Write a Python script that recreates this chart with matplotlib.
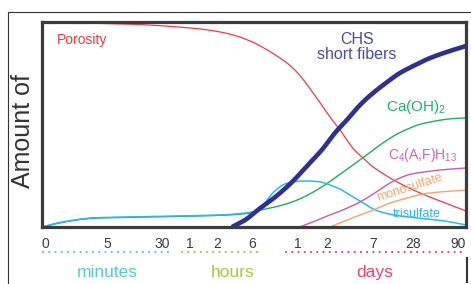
import matplotlib
matplotlib.use('Agg')
import matplotlib.pyplot as plt
from matplotlib.lines import Line2D
import numpy as np

plt.rcParams['font.family'] = ['Liberation Sans', 'DejaVu Sans']

# Curves: x is position along the time axis (0-100), y is amount (0-100)
porosity_x = [0, 13.7, 25.5, 37.3, 44.3, 49.1, 52.6, 56.1, 58.5, 60.8, 63.2, 65.6, 67.9, 70.3,
              73.3, 75.7, 78.1, 82.1, 86.1, 90.3, 93.9, 100]
porosity_y = [99.5, 99.3, 98.5, 96.6, 94.1, 90.7, 87.0, 82.5, 78.8, 74.0, 67.5, 60.5, 53.7, 47.3,
              38.5, 33.7, 29.3, 23.9, 19.5, 15.6, 12.7, 7.8]

chs_x = [44.8, 47.9, 50.9, 55.0, 59.0, 62.7, 66.0, 69.1, 71.9, 75.0, 78.1, 81.4, 84.4, 88.0, 91.5, 95.5, 100]
chs_y = [0, 3.4, 8.3, 14.6, 22.0, 30.2, 37.6, 45.9, 52.2, 59.5, 65.4, 70.7, 75.1, 79.0, 82.4, 85.4, 88.3]

caoh_x = [0, 3.1, 6.6, 10.1, 13.7, 25.5, 37.3, 44.3, 49.1, 50.9, 55.0, 59.0, 62.7, 66.7, 71.0, 75.7,
          78.1, 81.4, 83.7, 86.8, 89.9, 95.5, 100]
caoh_y = [0, 1.5, 2.9, 3.9, 4.4, 4.9, 5.4, 5.9, 6.8, 8.0, 9.8, 12.2, 15.6, 20.5, 26.8, 33.8,
          37.6, 42.4, 45.3, 48.3, 50.5, 52.6, 53.2]

trisulfate_x = [0, 3.1, 6.6, 10.1, 13.7, 25.5, 37.3, 44.3, 49.5, 50.9, 52.4, 53.8, 55.4, 57.3, 59.7,
                62.7, 65.6, 67.9, 70.3, 72.6, 75.0, 78.1, 80.9, 84.4, 89.9, 95.0, 100]
trisulfate_y = [0, 1.7, 3.1, 4.1, 4.6, 5.1, 5.6, 6.1, 7.3, 8.3, 11.2, 15.1, 18.5, 21.0, 22.2,
                22.4, 22.0, 20.5, 18.5, 15.6, 12.7, 8.8, 6.8, 5.4, 4.1, 2.9, 1.0]

c4afh_x = [60.8, 62.0, 64.4, 66.7, 69.1, 71.5, 75.0, 78.5, 82.1, 85.6, 88.4, 93.9, 100]
c4afh_y = [0, 1.0, 2.9, 4.9, 6.8, 8.8, 12.2, 16.6, 21.5, 24.9, 26.3, 27.8, 28.8]

mono_x = [67.9, 70.3, 73.8, 78.1, 82.1, 86.1, 89.9, 93.9, 100]
mono_y = [0, 2.0, 4.9, 8.3, 11.7, 14.1, 16.1, 17.1, 18.0]

tick_pos = [0.7, 15.3, 28.3, 34.9, 41.3, 49.5, 60.4, 67.2, 78.1, 87.5, 98.1]
tick_labels = ['0', '5', '30', '1', '2', '6', '1', '2', '7', '28', '90']

# time unit groups: name, start, end, label centre
groups = ['minutes', 'hours', 'days']
group_start = [0.2, 33.0, 57.5]
group_end = [30.7, 51.2, 99.3]
group_center = [15.3, 45.0, 78.5]
group_colors = ['#55c8da', '#a6c93e', '#ee4466']


def smooth(x, y, n=12):
    # catmull-rom through the read points, only to draw them as a smooth line
    p = np.column_stack([x, y]).astype(float)
    p = np.vstack([p[0], p, p[-1]])
    out = []
    t = np.linspace(0, 1, n, endpoint=False)[:, None]
    for i in range(1, len(p) - 2):
        p0, p1, p2, p3 = p[i - 1], p[i], p[i + 1], p[i + 2]
        out.append(0.5 * (2 * p1 + (p2 - p0) * t + (2 * p0 - 5 * p1 + 4 * p2 - p3) * t ** 2
                          + (3 * p1 - p0 - 3 * p2 + p3) * t ** 3))
    out.append(p[-2][None, :])
    out = np.vstack(out)
    return out[:, 0], out[:, 1]


fig = plt.figure(figsize=(4.71, 2.84), dpi=100)
ax = fig.add_axes([42 / 471, 57 / 284, 424 / 471, 205 / 284])

ax.plot(*smooth(porosity_x, porosity_y), color='#ee3a45', lw=0.9)
ax.plot(*smooth(caoh_x, caoh_y), color='#1fae5b', lw=1.0)
ax.plot(*smooth(trisulfate_x, trisulfate_y), color='#2db7ea', lw=1.1)
ax.plot(*smooth(c4afh_x, c4afh_y), color='#c55cb4', lw=1.0)
ax.plot(*smooth(mono_x, mono_y), color='#f7a36e', lw=1.0)
ax.plot(*smooth(chs_x, chs_y), color='#2e3192', lw=3.3, solid_capstyle='butt')

ax.set_xlim(0, 100)
ax.set_ylim(0, 100)
ax.set_yticks([])
ax.set_xticks(tick_pos)
ax.set_xticklabels(tick_labels, fontsize=10, color='#3a3a3a')
ax.tick_params(axis='x', length=0, pad=7)
for s in ax.spines.values():
    s.set_linewidth(2.3)
    s.set_color('#3c3c3c')

# curve labels
ax.text(3.5, 91.2, 'Porosity', color='#ee3a45', fontsize=10, ha='left', va='center')
ax.text(74.3, 87.8, 'CHS\nshort fibers', color='#4a4d9e', fontsize=11.5, ha='center', va='center',
        linespacing=1.05)
ax.text(81.1, 58.5, r'Ca(OH)$\mathregular{_2}$', color='#22b06a', fontsize=11, ha='left', va='center')
ax.text(81.6, 35.1, r'C$\mathregular{_4}$(A,F)H$\mathregular{_{13}}$', color='#c766b4', fontsize=10,
        ha='left', va='center')
ax.text(86.8, 19.0, 'monosulfate', color='#f7a36e', fontsize=9, ha='center', va='center', rotation=18)
ax.text(88.4, 6.3, 'trisulfate', color='#2db7ea', fontsize=9, ha='center', va='center')

# dotted unit rows and names under the axis
for name, x0, x1, xc, c in zip(groups, group_start, group_end, group_center, group_colors):
    ax.plot([x0, x1], [-12.2, -12.2], color=c, lw=1.6, ls=(0, (0.01, 2.8)),
            dash_capstyle='round', clip_on=False)
    ax.text(xc, -22.0, name, color=c, fontsize=12.5, ha='center', va='center', clip_on=False)

fig.text(23 / 471, 1 - 131 / 284, 'Amount of', rotation=90, fontsize=18, color='#333333',
         ha='center', va='center')

# outer frame lines
fig.add_artist(Line2D([8 / 471, 8 / 471], [0, 1 - 12 / 284], color='#333333', lw=0.8))
fig.add_artist(Line2D([8 / 471, 1], [1 - 12 / 284, 1 - 12 / 284], color='#333333', lw=0.8))
fig.add_artist(Line2D([467 / 471, 467 / 471], [1 - 258 / 284, 1 - 282 / 284], color='#333333', lw=1.5))

fig.savefig('out.png', dpi=100)
